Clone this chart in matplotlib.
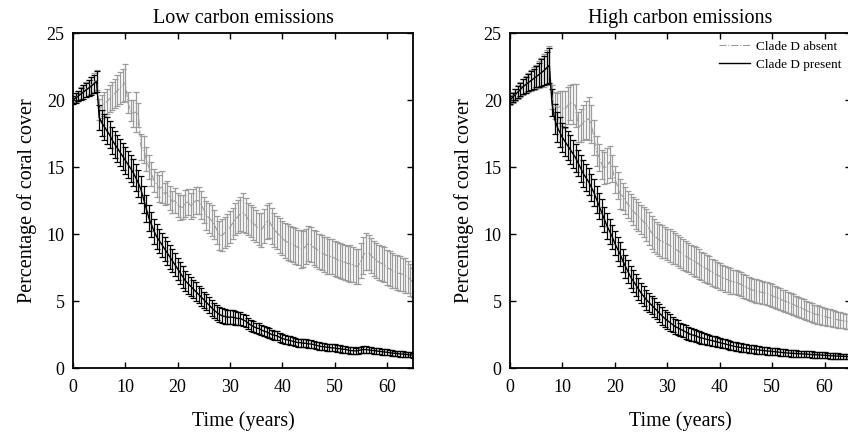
import numpy as np
import matplotlib
matplotlib.use("Agg")
import matplotlib.pyplot as plt

plt.rcParams['font.family'] = ['Liberation Serif', 'DejaVu Serif']

years = np.arange(0, 65.5, 0.5)

# Low carbon emissions, clade D absent (grey) / present (black)
low_absent = [20.0, 20.2, 20.3, 20.5, 20.6, 20.8, 20.9, 21.1, 21.3, 21.5,
              19.3, 19.5, 19.7, 19.9, 20.1, 20.3, 20.5, 20.7, 20.9, 21.1,
              21.3, 19.8, 19.2, 19.0, 19.1, 18.9, 16.5, 16.3, 15.6, 15.0,
              14.5, 14.0, 13.7, 13.4, 13.5, 13.0, 13.1, 12.7, 12.4, 12.5,
              12.2, 12.0, 12.0, 12.3, 12.4, 12.1, 12.3, 12.5, 12.5, 12.2,
              11.8, 11.4, 11.2, 11.0, 10.7, 10.3, 9.9, 9.9, 10.1, 10.3,
              10.5, 10.8, 11.1, 11.3, 11.5, 11.6, 11.4, 11.1, 11.0, 10.8,
              10.6, 10.4, 10.3, 10.6, 10.9, 11.0, 10.6, 10.3, 10.1, 9.9,
              9.7, 9.5, 9.4, 9.3, 9.2, 9.1, 9.0, 8.9, 8.9, 9.1,
              9.3, 9.2, 9.0, 8.9, 8.7, 8.6, 8.5, 8.4, 8.35, 8.3,
              8.2, 8.1, 8.0, 7.95, 7.9, 7.8, 7.8, 7.7, 7.6, 7.6,
              8.0, 8.4, 8.7, 8.6, 8.4, 8.2, 8.0, 7.9, 7.8, 7.7,
              7.5, 7.4, 7.3, 7.2, 7.1, 7.05, 7.0, 6.9, 6.8, 6.6,
              6.4]
low_absent_err = [0.3, 0.35, 0.4, 0.45, 0.5, 0.55, 0.6, 0.65, 0.7, 0.75,
                  0.8, 0.85, 0.9, 0.95, 1.0, 1.05, 1.1, 1.15, 1.2, 1.25, 1.4,
                  0.8, 0.8, 1.0, 1.5, 0.9,
                  1.0, 1.0, 0.9, 0.9, 0.9, 0.85, 0.9, 1.0, 1.2, 0.8, 0.85, 0.9, 0.85,
                  0.9, 0.9, 0.95, 0.9, 1.0, 0.95, 1.0, 1.05, 1.0, 1.0, 1.05, 1.0,
                  1.1, 1.1, 1.15, 1.1, 1.05, 1.1, 1.2, 1.15, 1.2, 1.2,
                  1.15, 1.2, 1.25, 1.3, 1.45, 1.3, 1.2, 1.2, 1.25, 1.2,
                  1.2, 1.25, 1.3, 1.25, 1.3, 1.35, 1.3, 1.25, 1.3, 1.3,
                  1.3, 1.35, 1.3, 1.3, 1.35, 1.3, 1.4, 1.35, 1.3, 1.3,
                  1.3, 1.3, 1.35, 1.3, 1.3, 1.3, 1.35, 1.3, 1.3, 1.3,
                  1.3, 1.3, 1.3, 1.3, 1.3, 1.35, 1.3, 1.3, 1.3, 1.3,
                  1.4, 1.35, 1.3, 1.3, 1.3, 1.3, 1.3, 1.3, 1.3, 1.3,
                  1.3, 1.3, 1.25, 1.3, 1.3, 1.25, 1.3, 1.2, 1.2, 1.1]
low_present = [20.0, 20.15, 20.3, 20.45, 20.6, 20.75, 20.9, 21.05, 21.2, 21.4,
               18.7, 18.3, 18.0, 17.7, 17.4, 17.0, 16.7, 16.4, 16.1, 15.8,
               15.5, 15.2, 14.9, 14.6, 14.2, 13.8, 13.3, 12.6, 11.9, 11.2,
               10.7, 10.2, 9.8, 9.5, 9.2, 8.9, 8.6, 8.3, 8.0, 7.7,
               7.4, 7.1, 6.8, 6.5, 6.3, 6.1, 5.9, 5.7, 5.5, 5.3,
               5.1, 4.9, 4.7, 4.5, 4.3, 4.15, 4.0, 3.9, 3.85, 3.8,
               3.8, 3.8, 3.75, 3.7, 3.7, 3.6, 3.5, 3.35, 3.2, 3.1,
               3.0, 2.95, 2.85, 2.75, 2.7, 2.6, 2.5, 2.45, 2.4, 2.3,
               2.2, 2.15, 2.1, 2.05, 2.0, 1.95, 1.9, 1.9, 1.85, 1.85,
               1.8, 1.8, 1.75, 1.7, 1.65, 1.6, 1.6, 1.55, 1.55, 1.5,
               1.5, 1.45, 1.45, 1.4, 1.4, 1.35, 1.3, 1.3, 1.28, 1.3,
               1.35, 1.38, 1.38, 1.35, 1.32, 1.3, 1.28, 1.25, 1.22, 1.2,
               1.18, 1.15, 1.12, 1.1, 1.08, 1.06, 1.04, 1.02, 1.0, 0.98,
               0.96]
low_present_err = [0.3, 0.35, 0.4, 0.45, 0.5, 0.55, 0.6, 0.65, 0.7, 0.8,
                   0.9, 0.95, 0.95, 1.0, 1.0, 1.0, 1.0, 1.0, 1.0, 1.0,
                   1.0, 1.0, 1.0, 1.0, 1.0, 1.0, 1.0, 1.0, 1.0, 1.0,
                   0.95, 0.95, 0.95, 0.9, 0.9, 0.9, 0.9, 0.9, 0.85, 0.85,
                   0.8, 0.8, 0.8, 0.75, 0.75, 0.7, 0.7, 0.7, 0.65, 0.65,
                   0.6, 0.6, 0.6, 0.6, 0.55, 0.55, 0.55, 0.55, 0.55, 0.5,
                   0.5, 0.5, 0.5, 0.45, 0.45, 0.45, 0.45, 0.4, 0.4, 0.4,
                   0.4, 0.4, 0.38, 0.38, 0.36, 0.36, 0.35, 0.35, 0.34, 0.34,
                   0.33, 0.33, 0.32, 0.32, 0.31, 0.31, 0.3, 0.3, 0.3, 0.3,
                   0.29, 0.29, 0.28, 0.28, 0.28, 0.27, 0.27, 0.27, 0.26, 0.26,
                   0.26, 0.25, 0.25, 0.25, 0.25, 0.24, 0.24, 0.24, 0.24, 0.24,
                   0.23, 0.23, 0.23, 0.23, 0.22, 0.22, 0.22, 0.22, 0.22, 0.21,
                   0.21, 0.21, 0.21, 0.2, 0.2, 0.2, 0.2, 0.2, 0.19, 0.19, 0.19]

# High carbon emissions
high_absent = [20.0, 20.2, 20.4, 20.6, 20.8, 21.0, 21.15, 21.3, 21.45, 21.6,
               21.75, 21.9, 22.05, 22.2, 22.4, 22.6, 20.2, 19.6, 19.4, 19.5,
               19.4, 19.3, 19.6, 19.8, 19.7, 19.6, 18.0, 18.1, 18.3, 18.5,
               18.6, 18.2, 17.2, 16.2, 15.7, 15.2, 14.9, 15.1, 15.4, 14.9,
               14.1, 13.6, 13.0, 12.8, 12.5, 12.2, 12.0, 11.7, 11.5, 11.3,
               11.1, 10.9, 10.7, 10.4, 10.1, 9.9, 9.7, 9.55, 9.45, 9.35,
               9.25, 9.15, 9.0, 8.9, 8.75, 8.65, 8.5, 8.35, 8.25, 8.1,
               8.0, 7.9, 7.75, 7.6, 7.5, 7.4, 7.3, 7.15, 7.05, 6.95,
               6.85, 6.75, 6.65, 6.6, 6.5, 6.45, 6.4, 6.35, 6.25, 6.15,
               6.05, 5.95, 5.85, 5.8, 5.75, 5.7, 5.65, 5.6, 5.55, 5.5,
               5.4, 5.3, 5.25, 5.15, 5.05, 5.0, 4.9, 4.82, 4.75, 4.65,
               4.55, 4.5, 4.4, 4.3, 4.2, 4.15, 4.05, 4.0, 3.95, 3.9,
               3.85, 3.8, 3.75, 3.7, 3.65, 3.6, 3.57, 3.54, 3.5, 3.47,
               3.45]
high_absent_err = [0.35, 0.4, 0.45, 0.5, 0.55, 0.6, 0.65, 0.7, 0.8, 0.85,
                   0.9, 1.0, 1.1, 1.2, 1.3, 1.4,
                   0.9, 1.0, 1.1, 1.2, 1.3, 1.4, 1.4, 1.3, 1.5, 1.6,
                   1.1, 1.2, 1.3, 1.4, 1.6, 1.4, 1.3, 1.1, 1.0, 1.1,
                   1.2, 1.3, 1.2, 1.0, 1.0, 1.0, 1.1, 1.0, 1.0, 1.0,
                   1.0, 1.05, 1.1, 1.1, 1.1, 1.15, 1.2, 1.25, 1.25, 1.25,
                   1.2, 1.2, 1.2, 1.15, 1.15, 1.2, 1.2, 1.15, 1.15, 1.15,
                   1.15, 1.1, 1.1, 1.1, 1.1, 1.1, 1.1, 1.05, 1.05, 1.05,
                   1.05, 1.0, 1.0, 1.0, 1.0, 0.95, 0.95, 0.95, 0.95, 0.9,
                   0.9, 0.9, 0.9, 0.9, 0.9, 0.88, 0.88, 0.88, 0.86, 0.86,
                   0.86, 0.85, 0.85, 0.84, 0.84, 0.83, 0.82, 0.82, 0.81, 0.8,
                   0.8, 0.78, 0.77, 0.76, 0.75, 0.74, 0.73, 0.72, 0.71, 0.7,
                   0.69, 0.68, 0.67, 0.66, 0.65, 0.64, 0.63, 0.62, 0.61, 0.6,
                   0.59, 0.58, 0.57, 0.56, 0.55]
high_present = [20.0, 20.2, 20.4, 20.6, 20.8, 21.0, 21.15, 21.3, 21.45, 21.6,
                21.75, 21.9, 22.05, 22.2, 22.4, 22.6, 19.8, 18.6, 18.0, 17.6,
                17.2, 16.9, 16.6, 16.3, 16.0, 15.7, 15.3, 14.9, 14.5, 14.2,
                13.9, 13.5, 13.1, 12.6, 12.1, 11.6, 11.1, 10.6, 10.2, 9.8,
                9.3, 8.9, 8.5, 8.0, 7.6, 7.2, 6.8, 6.5, 6.2, 5.9,
                5.6, 5.35, 5.1, 4.9, 4.7, 4.5, 4.3, 4.1, 3.9, 3.7,
                3.55, 3.4, 3.25, 3.1, 3.0, 2.9, 2.8, 2.7, 2.6, 2.5,
                2.45, 2.4, 2.3, 2.25, 2.2, 2.15, 2.1, 2.05, 2.0, 1.95,
                1.9, 1.85, 1.8, 1.75, 1.7, 1.65, 1.6, 1.57, 1.54, 1.51,
                1.48, 1.45, 1.42, 1.4, 1.37, 1.35, 1.32, 1.3, 1.28, 1.26,
                1.24, 1.22, 1.2, 1.18, 1.16, 1.14, 1.12, 1.11, 1.1, 1.08,
                1.07, 1.06, 1.05, 1.04, 1.02, 1.01, 1.0, 0.99, 0.98, 0.97,
                0.95, 0.94, 0.92, 0.91, 0.9, 0.89, 0.88, 0.87, 0.86, 0.85,
                0.84]
high_present_err = [0.3, 0.35, 0.4, 0.45, 0.5, 0.55, 0.6, 0.65, 0.7, 0.75,
                    0.8, 0.9, 1.0, 1.1, 1.2, 1.3,
                    1.0, 1.1, 1.1, 1.1, 1.1, 1.1, 1.1, 1.1, 1.05, 1.05,
                    1.0, 1.0, 1.0, 1.0, 1.0, 1.0, 1.0, 1.0, 1.0, 1.0,
                    0.95, 0.95, 0.95, 0.9, 0.9, 0.9, 0.9, 0.85, 0.85, 0.85,
                    0.8, 0.8, 0.8, 0.8, 0.75, 0.75, 0.75, 0.7, 0.7, 0.7,
                    0.65, 0.65, 0.65, 0.6, 0.6, 0.6, 0.55, 0.55, 0.55, 0.5,
                    0.5, 0.5, 0.48, 0.46, 0.45, 0.44, 0.43, 0.42, 0.41, 0.4,
                    0.39, 0.38, 0.37, 0.36, 0.35, 0.35, 0.34, 0.34, 0.33, 0.33,
                    0.32, 0.32, 0.31, 0.31, 0.3, 0.3, 0.3, 0.29, 0.29, 0.29,
                    0.28, 0.28, 0.28, 0.27, 0.27, 0.27, 0.26, 0.26, 0.26, 0.25,
                    0.25, 0.25, 0.25, 0.24, 0.24, 0.24, 0.24, 0.23, 0.23, 0.23,
                    0.23, 0.22, 0.22, 0.22, 0.22, 0.21, 0.21, 0.21, 0.21, 0.2,
                    0.2, 0.2, 0.2, 0.2, 0.2]

panels = [
    ("Low carbon emissions", low_absent, low_absent_err, low_present, low_present_err),
    ("High carbon emissions", high_absent, high_absent_err, high_present, high_present_err),
]

fig = plt.figure(figsize=(8.48, 4.32), dpi=100)
ax_left = fig.add_axes([0.0861, 0.148, 0.401, 0.7755])
ax_right = fig.add_axes([0.6014, 0.148, 0.402, 0.7755])

grey = '#9c9c9c'
for ax, (title, absent, absent_err, present, present_err) in zip([ax_left, ax_right], panels):
    eb_a = ax.errorbar(years, absent, yerr=absent_err, color=grey, ls='-.', lw=0.8,
                       ecolor=grey, elinewidth=0.9, capsize=2, capthick=0.9,
                       label='Clade D absent')
    eb_p = ax.errorbar(years, present, yerr=present_err, color='black', ls='-', lw=1.0,
                       ecolor='black', elinewidth=0.9, capsize=2, capthick=0.9,
                       label='Clade D present')
    ax.set_xlim(0, 65)
    ax.set_ylim(0, 25)
    ax.set_xticks(range(0, 61, 10))
    ax.set_yticks(range(0, 26, 5))
    ax.tick_params(direction='in', top=True, right=True, length=4, width=1,
                   labelsize=13)
    ax.tick_params(axis='x', pad=8)
    ax.tick_params(axis='y', pad=6)
    for s in ax.spines.values():
        s.set_linewidth(1.3)
    ax.set_title(title, fontsize=14.5, pad=7)
    ax.set_xlabel('Time (years)', fontsize=14.5, labelpad=11)
    ax.set_ylabel('Percentage of coral cover', fontsize=14.5, labelpad=7)

ax_right.legend(handles=[eb_a.lines[0], eb_p.lines[0]],
                labels=['Clade D absent', 'Clade D present'],
                loc='upper right', bbox_to_anchor=(0.998, 0.918),
                bbox_transform=fig.transFigure, frameon=False, fontsize=9.5,
                handlelength=2.4, handletextpad=0.4, labelspacing=0.45,
                borderaxespad=0)

fig.savefig('out.png', dpi=100)
